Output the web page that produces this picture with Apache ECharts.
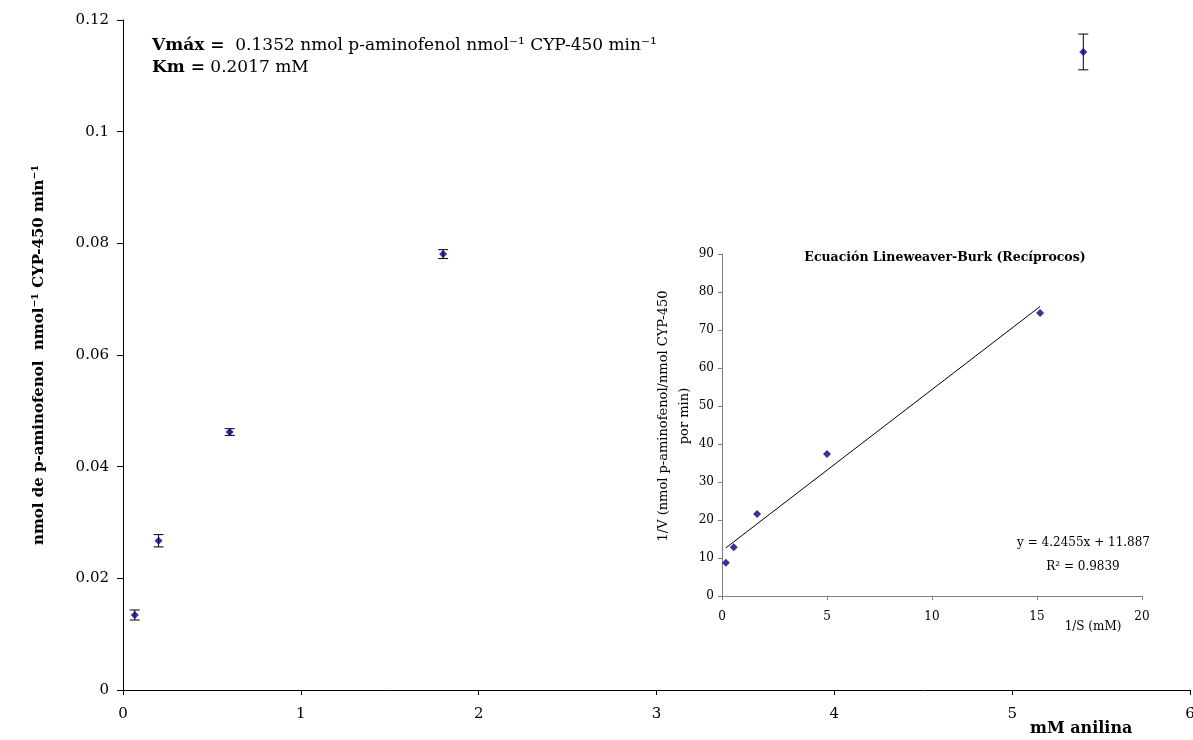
<!DOCTYPE html>
<html>
<head>
<meta charset="utf-8">
<script src="https://cdn.jsdelivr.net/npm/echarts@6/dist/echarts.min.js"></script>
<style>
  html, body { margin: 0; padding: 0; background: #fff; }
  #chart { width: 1193px; height: 740px; }
</style>
</head>
<body>
<div id="chart"></div>
<script>
// main plot: substrate (mM) vs rate
const substrate = [0.066, 0.2, 0.6, 1.8, 5.4]
const rate = [0.01343, 0.02673, 0.0462, 0.07807, 0.11428]
const rateErr = [0.0009, 0.0011, 0.0006, 0.0008, 0.0032]
const yTicks = ['0', '0.02', '0.04', '0.06', '0.08', '0.1', '0.12']

// inset: Lineweaver-Burk
const invS = [15.15, 5, 1.67, 0.56, 0.185]
const invV = [74.5, 37.4, 21.6, 12.8, 8.75]
const trendX = [0.185, 15.15]
const trendY = [12.67, 76.2]

const serif = '"DejaVu Serif", "Liberation Serif", serif'
const navy = '#000080'

const chart = echarts.init(document.getElementById('chart'))

// error bars drawn through the axis scale
function errorBar(params, api) {
  const x = api.value(0)
  const y = api.value(1)
  const e = api.value(2)
  const top = api.coord([x, y + e])
  const bot = api.coord([x, y - e])
  const half = 5
  const style = { stroke: '#000', lineWidth: 1 }
  return {
    type: 'group',
    children: [
      { type: 'line', shape: { x1: top[0], y1: top[1], x2: bot[0], y2: bot[1] }, style },
      { type: 'line', shape: { x1: top[0] - half, y1: top[1], x2: top[0] + half, y2: top[1] }, style },
      { type: 'line', shape: { x1: bot[0] - half, y1: bot[1], x2: bot[0] + half, y2: bot[1] }, style }
    ]
  }
}

chart.setOption({
  animation: false,
  textStyle: { fontFamily: serif },
  grid: [
    { left: 123, right: 3, top: 20, bottom: 50, outerBoundsMode: 'none' },
    { left: 722, right: 51, top: 254, bottom: 144, outerBoundsMode: 'none' }
  ],
  xAxis: [{
    gridIndex: 0,
    type: 'value',
    min: 0,
    max: 6,
    interval: 1,
    splitLine: { show: false },
    axisLine: { lineStyle: { color: '#000', width: 1 } },
    axisTick: { length: 5, lineStyle: { color: '#000' } },
    axisLabel: { color: '#000', fontSize: 15, fontFamily: serif, margin: 17 }
  }, {
    gridIndex: 1,
    type: 'value',
    min: 0,
    max: 20,
    interval: 5,
    splitLine: { show: false },
    axisLine: { lineStyle: { color: '#808080', width: 1 } },
    axisTick: { length: 4, lineStyle: { color: '#808080' } },
    axisLabel: { color: '#000', fontSize: 12, fontFamily: serif, margin: 15 }
  }],
  yAxis: [{
    gridIndex: 0,
    type: 'value',
    min: 0,
    max: 0.12,
    interval: 0.02,
    splitLine: { show: false },
    axisLine: { show: true, lineStyle: { color: '#000', width: 1 } },
    axisTick: { show: true, length: 6, lineStyle: { color: '#000' } },
    axisLabel: {
      color: '#000', fontSize: 15, fontFamily: serif, margin: 14,
      formatter: (v, i) => yTicks[i]
    },
    name: 'nmol de p-aminofenol  nmol⁻¹ CYP-450 min⁻¹',
    nameLocation: 'middle',
    nameGap: 76,
    nameTextStyle: { color: '#000', fontSize: 15, fontWeight: 'bold', fontFamily: serif }
  }, {
    gridIndex: 1,
    type: 'value',
    min: 0,
    max: 90,
    interval: 10,
    splitLine: { show: false },
    axisLine: { show: true, lineStyle: { color: '#808080', width: 1 } },
    axisTick: { show: true, length: 4, lineStyle: { color: '#808080' } },
    axisLabel: { color: '#000', fontSize: 12, fontFamily: serif, margin: 8 }
  }],
  graphic: [
    {
      type: 'text', left: 152, top: 35,
      style: {
        text: '{b|Vmáx =}  0.1352 nmol p-aminofenol nmol⁻¹ CYP-450 min⁻¹\n{b|Km =} 0.2017 mM',
        font: '17px ' + serif,
        fill: '#000',
        lineHeight: 22,
        rich: { b: { fontWeight: 'bold', fontSize: 17, fontFamily: serif } }
      }
    },
    {
      type: 'text', left: 1030, top: 721,
      style: { text: 'mM anilina', font: 'bold 16px ' + serif, fill: '#000' }
    },
    {
      type: 'text', x: 945, y: 258,
      style: {
        text: 'Ecuación Lineweaver-Burk (Recíprocos)', font: 'bold 12.5px ' + serif,
        fill: '#000', align: 'center', verticalAlign: 'middle'
      }
    },
    {
      type: 'text', x: 674, y: 416, rotation: Math.PI / 2,
      style: {
        text: '1/V (nmol p-aminofenol/nmol CYP-450\npor min)', font: '13px ' + serif,
        fill: '#000', align: 'center', verticalAlign: 'middle', lineHeight: 21
      }
    },
    {
      type: 'text', x: 1150, y: 543,
      style: {
        text: 'y = 4.2455x + 11.887', font: '12px ' + serif,
        fill: '#000', align: 'right', verticalAlign: 'middle'
      }
    },
    {
      type: 'text', x: 1083, y: 567,
      style: {
        text: 'R² = 0.9839', font: '12px ' + serif,
        fill: '#000', align: 'center', verticalAlign: 'middle'
      }
    },
    {
      type: 'text', x: 1093, y: 627,
      style: {
        text: '1/S (mM)', font: '12px ' + serif,
        fill: '#000', align: 'center', verticalAlign: 'middle'
      }
    }
  ],
  series: [
    {
      type: 'custom',
      xAxisIndex: 0,
      yAxisIndex: 0,
      renderItem: errorBar,
      data: substrate.map((s, i) => [s, rate[i], rateErr[i]]),
      z: 2
    },
    {
      type: 'scatter',
      xAxisIndex: 0,
      yAxisIndex: 0,
      symbol: 'diamond',
      symbolSize: 8,
      itemStyle: { color: navy },
      data: substrate.map((s, i) => [s, rate[i]]),
      z: 3
    },
    {
      type: 'line',
      xAxisIndex: 1,
      yAxisIndex: 1,
      showSymbol: false,
      lineStyle: { color: '#000', width: 1 },
      data: trendX.map((x, i) => [x, trendY[i]])
    },
    {
      type: 'scatter',
      xAxisIndex: 1,
      yAxisIndex: 1,
      symbol: 'diamond',
      symbolSize: 8,
      itemStyle: { color: navy },
      data: invS.map((x, i) => [x, invV[i]]),
      z: 3
    }
  ]
})
</script>
</body>
</html>
